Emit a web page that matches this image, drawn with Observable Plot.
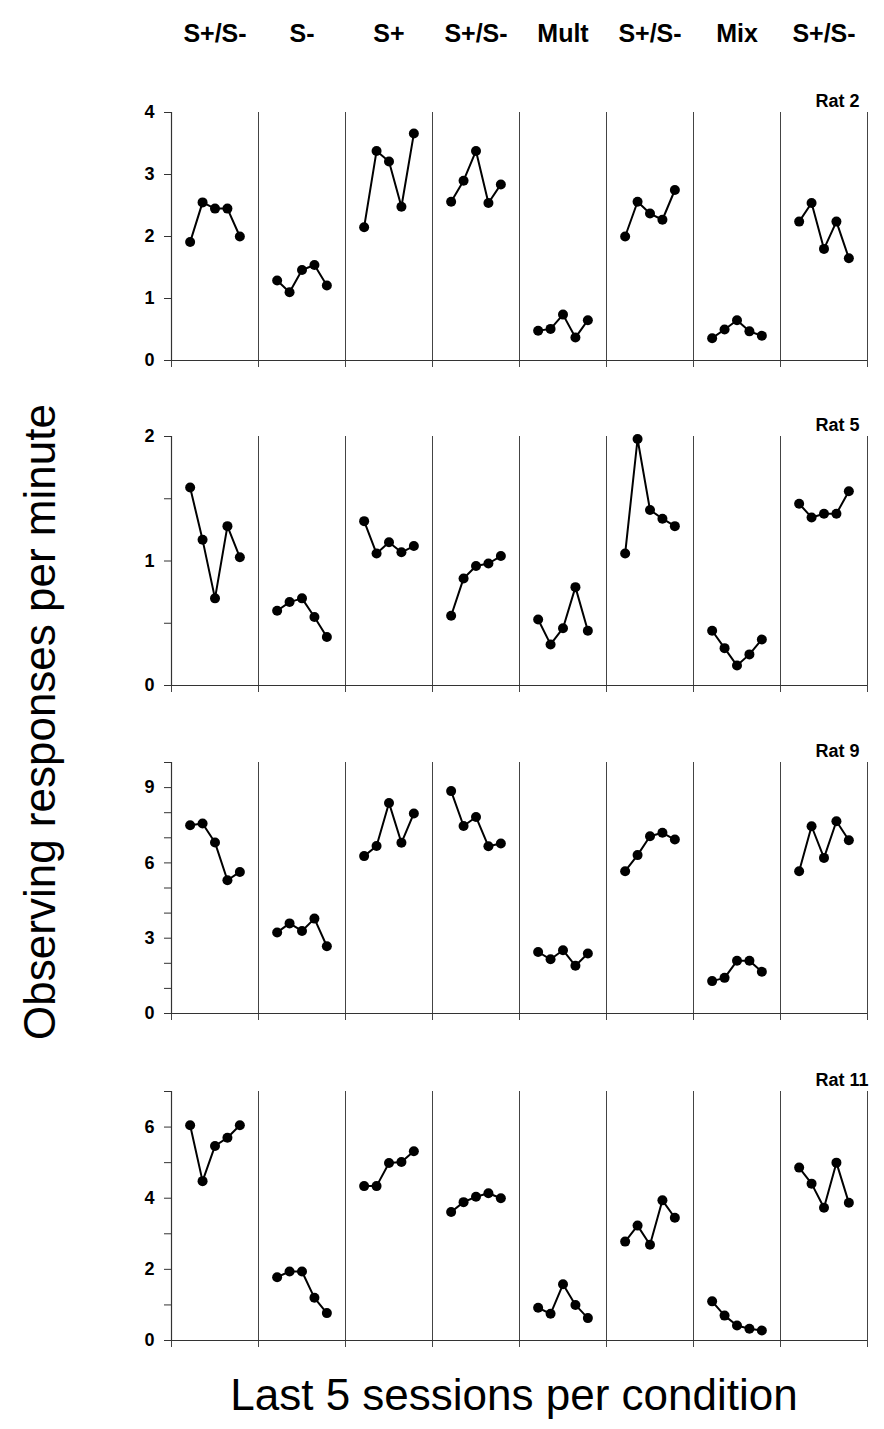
<!DOCTYPE html>
<html>
<head>
<meta charset="utf-8">
<script src="https://cdn.jsdelivr.net/npm/d3@7"></script>
<script src="https://cdn.jsdelivr.net/npm/@observablehq/plot@0.6"></script>
<style>
  body { margin: 0; background: #fff; }
  #wrap { position: relative; width: 884px; height: 1429px; overflow: hidden;
          font-family: "Liberation Sans", Arial, sans-serif; color: #000; }
  .panel { position: absolute; left: 0; }
  #ytitle { position: absolute; left: -360px; top: 700px; width: 800px; height: 44px;
            line-height: 44px; font-size: 44px; text-align: center; transform: rotate(-90deg); }
  #xtitle { position: absolute; left: 114px; top: 1373px; width: 800px; height: 44px;
            line-height: 44px; font-size: 44px; text-align: center; }
</style>
</head>
<body>
<div id="wrap">
  <div id="ytitle">Observing responses per minute</div>
  <div id="xtitle">Last 5 sessions per condition</div>
</div>
<script>
// ---- data ----
const conditions = ["S+/S-", "S-", "S+", "S+/S-", "Mult", "S+/S-", "Mix", "S+/S-"];
const rats = ["Rat 2", "Rat 5", "Rat 9", "Rat 11"];

const rat2 = [
  [1.91, 2.55, 2.45, 2.45, 2.00],
  [1.29, 1.10, 1.46, 1.54, 1.21],
  [2.15, 3.38, 3.21, 2.48, 3.66],
  [2.56, 2.90, 3.38, 2.54, 2.84],
  [0.48, 0.51, 0.74, 0.37, 0.65],
  [2.00, 2.56, 2.37, 2.27, 2.75],
  [0.36, 0.50, 0.65, 0.47, 0.40],
  [2.24, 2.54, 1.80, 2.24, 1.65]
];
const rat5 = [
  [1.59, 1.17, 0.70, 1.28, 1.03],
  [0.60, 0.67, 0.70, 0.55, 0.39],
  [1.32, 1.06, 1.15, 1.07, 1.12],
  [0.56, 0.86, 0.96, 0.98, 1.04],
  [0.53, 0.33, 0.46, 0.79, 0.44],
  [1.06, 1.98, 1.41, 1.34, 1.28],
  [0.44, 0.30, 0.16, 0.25, 0.37],
  [1.46, 1.35, 1.38, 1.38, 1.56]
];
const rat9 = [
  [7.50, 7.57, 6.81, 5.31, 5.64],
  [3.23, 3.59, 3.29, 3.78, 2.68],
  [6.27, 6.67, 8.39, 6.80, 7.97],
  [8.86, 7.47, 7.83, 6.66, 6.77],
  [2.45, 2.16, 2.52, 1.90, 2.39],
  [5.67, 6.31, 7.06, 7.20, 6.93],
  [1.29, 1.42, 2.10, 2.10, 1.66],
  [5.67, 7.46, 6.20, 7.66, 6.90]
];
const rat11 = [
  [6.05, 4.48, 5.47, 5.70, 6.05],
  [1.78, 1.94, 1.94, 1.20, 0.77],
  [4.34, 4.34, 4.99, 5.02, 5.32],
  [3.61, 3.89, 4.04, 4.14, 4.00],
  [0.92, 0.75, 1.58, 1.00, 0.63],
  [2.78, 3.23, 2.69, 3.94, 3.45],
  [1.10, 0.70, 0.42, 0.33, 0.28],
  [4.86, 4.41, 3.73, 5.00, 3.87]
];

const yMax = [4, 2, 10, 7];
const yStep = [1, 0.5, 1, 1];
const yLabeled = [[0, 1, 2, 3, 4], [0, 1, 2], [0, 3, 6, 9], [0, 2, 4, 6]];

// ---- layout ----
const slots = 7; // x units per condition block (5 sessions centred)
const series = [rat2, rat5, rat9, rat11];
const frameTop = [112, 436, 762, 1091];
const frameH = [248, 249, 251, 249];
const font = "'Liberation Sans', Arial, sans-serif";
const wrap = document.getElementById("wrap");

series.forEach((data, p) => {
  const rows = [];
  data.forEach((vals, c) => vals.forEach((v, s) => rows.push({cond: c, session: s + 1, value: v})));
  const mt = p === 0 ? frameTop[0] : 30;
  const mb = 12;
  const ticks = d3.range(0, yMax[p] + 1e-9, yStep[p]);
  const bounds = d3.range(0, conditions.length + 1).map(k => k * slots);
  const marks = [
    Plot.ruleX(bounds.slice(1), {y1: 0, y2: yMax[p], stroke: "#444", strokeWidth: 1}),
    Plot.axisX({ticks: bounds, tickSize: 7, tickFormat: () => "", stroke: "#444", label: null}),
    Plot.ruleY([0], {stroke: "#333", strokeWidth: 1.2}),
    Plot.ruleX([0], {stroke: "#333", strokeWidth: 1.2}),
    Plot.axisY({ticks, tickSize: 7, tickPadding: 10, stroke: "#333", label: null,
      tickFormat: d => yLabeled[p].includes(d) ? String(d) : "",
      fontSize: 18, fontWeight: "bold", fill: "#000"}),
    Plot.line(rows, {x: d => d.cond * slots + d.session + 0.5, y: "value", z: "cond",
      stroke: "#000", strokeWidth: 2}),
    Plot.dot(rows, {x: d => d.cond * slots + d.session + 0.5, y: "value", r: 5, fill: "#000"}),
    Plot.text([rats[p]], {text: d => d, frameAnchor: "top-right", textAnchor: "start",
      dx: -52, dy: -18, fontSize: 18, fontWeight: "bold", fill: "#000"})
  ];
  if (p === 0) {
    marks.push(Plot.text(conditions, {text: d => d, x: (d, i) => i * slots + slots / 2,
      frameAnchor: "top", dy: -88, fontSize: 25, fontWeight: "bold", fill: "#000"}));
  }
  const chart = Plot.plot({
    width: 884,
    height: mt + frameH[p] + mb,
    marginTop: mt, marginBottom: mb, marginLeft: 171, marginRight: 17,
    x: {domain: [0, conditions.length * slots], axis: null},
    y: {domain: [0, yMax[p]], axis: null},
    style: {fontFamily: font, background: "transparent"},
    marks
  });
  chart.classList.add("panel");
  chart.style.top = (frameTop[p] - mt) + "px";
  wrap.appendChild(chart);
});
</script>
</body>
</html>
